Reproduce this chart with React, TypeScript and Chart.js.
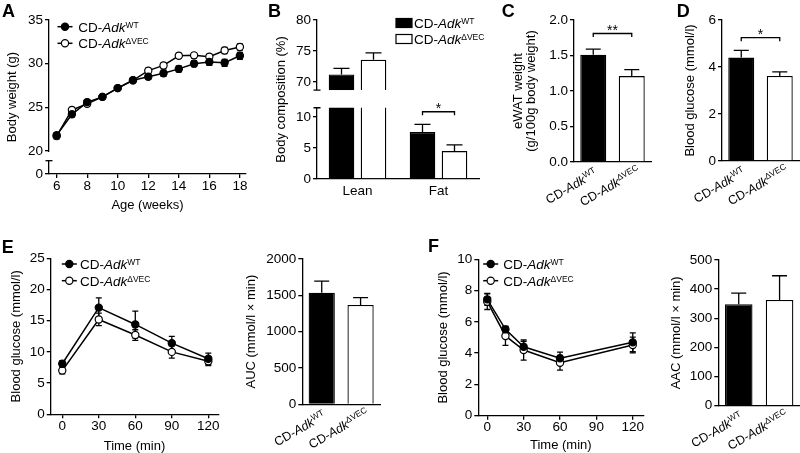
import React, { useEffect, useRef } from 'react';
import { Chart, registerables, LinearScale } from 'chart.js';

// ---------------- data ----------------
const groupKeys = ['WT', 'ΔVEC'];

// A: body weight
const ageWeeks = [6, 7, 8, 9, 10, 11, 12, 13, 14, 15, 16, 17, 18];
const bodyWeightWT = [21.8, 24.2, 25.6, 26.2, 27.2, 28.1, 28.5, 28.9, 29.4, 30.0, 30.2, 30.1, 30.9];
const bodyWeightWTsem = [0.3, 0.3, 0.25, 0.2, 0.2, 0.2, 0.3, 0.35, 0.35, 0.35, 0.4, 0.4, 0.4];
const bodyWeightKO = [21.7, 24.7, 25.4, 26.2, 27.2, 28.1, 29.2, 29.8, 30.9, 30.95, 30.8, 31.5, 31.9];
const bodyWeightKOsem = [0.3, 0.3, 0.25, 0.2, 0.2, 0.2, 0.3, 0.3, 0.3, 0.3, 0.3, 0.35, 0.35];
const bodyWeightTicksY = [0, 20, 25, 30, 35];
const bodyWeightTicksX = [6, 8, 10, 12, 14, 16, 18];

// B: body composition
const compCategories = ['Lean', 'Fat'];
const compWT = [71.2, 7.6];
const compWTsem = [1.0, 1.2];
const compKO = [73.6, 4.5];
const compKOsem = [1.1, 1.0];
const compTicks = [0, 5, 10, 70, 75, 80];
const compSigLevel = 10.85;

// C: eWAT
const ewat = [1.51, 1.21];
const ewatSem = [0.08, 0.09];
const ewatTicks = [0, 0.5, 1.0, 1.5, 2.0];
const ewatSigLevel = 1.81;

// D: fasting glucose
const fastGlucose = [4.4, 3.62];
const fastGlucoseSem = [0.31, 0.17];
const fastGlucoseTicks = [0, 2, 4, 6];
const fastGlucoseSigLevel = 5.25;

// E: GTT
const gttTime = [0, 30, 60, 90, 120];
const gttWT = [8.1, 17.1, 14.4, 11.4, 8.9];
const gttWTsem = [0.5, 1.55, 2.15, 1.1, 0.9];
const gttKO = [7.0, 15.2, 12.7, 10.0, 8.5];
const gttKOsem = [0.5, 1.0, 0.85, 1.0, 0.7];
const gttTicksY = [0, 5, 10, 15, 20, 25];
const timeTicks = [0, 30, 60, 90, 120];
const auc = [1536, 1367];
const aucSem = [160, 100];
const aucTicks = [0, 500, 1000, 1500, 2000];

// F: ITT
const ittTime = [0, 15, 30, 60, 120];
const ittWT = [7.44, 5.52, 4.41, 3.67, 4.69];
const ittWTsem = [0.38, 0.2, 0.35, 0.4, 0.6];
const ittKO = [7.29, 5.1, 4.2, 3.39, 4.52];
const ittKOsem = [0.5, 0.6, 0.65, 0.47, 0.5];
const ittTicksY = [0, 2, 4, 6, 8, 10];
const aac = [348, 363];
const aacSem = [38, 83];
const aacTicks = [0, 100, 200, 300, 400, 500];

// ---------------- styling helpers ----------------
const FONT = '"Liberation Sans", Arial, Helvetica, sans-serif';
const BLACK = '#000000';
const WHITE = '#ffffff';
const LW = 1.3;

type Box = { x: number; y: number; w: number; h: number };
type Plot = { l: number; t: number; r: number; b: number };
type Part = { t: string; it?: boolean; sup?: boolean };

class BrokenScale extends LinearScale {
  static id = 'broken';
  static defaults = LinearScale.defaults;
  getPixelForValue(value: number): number {
    const b = (this.options as any).brk;
    if (!b) return super.getPixelForValue(value);
    const k = (this.bottom - this.top - b.gap) / (b.lo - this.min + (this.max - b.hi));
    const pLo = this.bottom - (b.lo - this.min) * k;
    if (value <= b.lo) return this.bottom - (value - this.min) * k;
    if (value >= b.hi) return pLo - b.gap - (value - b.hi) * k;
    return pLo - ((value - b.lo) / (b.hi - b.lo)) * b.gap;
  }
  getValueForPixel(pixel: number): number {
    const b = (this.options as any).brk;
    if (!b) return super.getValueForPixel(pixel);
    const k = (this.bottom - this.top - b.gap) / (b.lo - this.min + (this.max - b.hi));
    const pLo = this.bottom - (b.lo - this.min) * k;
    if (pixel >= pLo) return this.min + (this.bottom - pixel) / k;
    if (pixel <= pLo - b.gap) return b.hi + (pLo - b.gap - pixel) / k;
    return b.lo + ((pLo - pixel) / b.gap) * (b.hi - b.lo);
  }
}

Chart.register(...registerables, BrokenScale as any);

const partsFor = (k: string): Part[] => [{ t: 'CD-' }, { t: 'Adk', it: true }, { t: k, sup: true }];

function fontOf(p: Part, size: number, sup: number) {
  return `${p.it ? 'italic ' : ''}${p.sup ? sup : size}px ${FONT}`;
}
function measureRich(ctx: CanvasRenderingContext2D, parts: Part[], size: number, sup: number) {
  let w = 0;
  for (const p of parts) {
    ctx.font = fontOf(p, size, sup);
    w += ctx.measureText(p.t).width;
  }
  return w;
}
function drawRich(ctx: CanvasRenderingContext2D, parts: Part[], x: number, y: number, size: number, sup: number, raise: number) {
  let cx = x;
  ctx.textAlign = 'left';
  ctx.textBaseline = 'alphabetic';
  ctx.fillStyle = BLACK;
  for (const p of parts) {
    ctx.font = fontOf(p, size, sup);
    ctx.fillText(p.t, cx, p.sup ? y - raise : y);
    cx += ctx.measureText(p.t).width;
  }
}

type Deco = {
  letter?: { t: string; x: number; y: number };
  lineErr?: boolean;
  barErr?: boolean;
  cap?: number;
  axisBreak?: { hi: number; lo?: number; gapPx?: number; marks: string[]; clearPlot?: boolean };
  brackets?: { a: number[]; b: number[]; v: number; t: string }[];
  legend?: { kind: 'line' | 'box'; mx: number; tx: number; rows: number[] };
  rot?: { dx: number; dy: number; angle: number };
};

function makeDeco(d: Deco) {
  return {
    id: 'deco',
    beforeDatasetsDraw(chart: any) {
      if (!d.lineErr) return;
      const ctx = chart.ctx as CanvasRenderingContext2D;
      const ys = chart.scales.y;
      const c = d.cap ?? 3;
      ctx.save();
      ctx.strokeStyle = BLACK;
      ctx.lineWidth = LW;
      chart.data.datasets.forEach((ds: any, di: number) => {
        const meta = chart.getDatasetMeta(di);
        ds.data.forEach((pt: any, j: number) => {
          const s = ds.sem[j];
          const x = meta.data[j].x;
          const y1 = ys.getPixelForValue(pt.y + s);
          const y2 = ys.getPixelForValue(pt.y - s);
          ctx.beginPath();
          ctx.moveTo(x, y1); ctx.lineTo(x, y2);
          ctx.moveTo(x - c, y1); ctx.lineTo(x + c, y1);
          ctx.moveTo(x - c, y2); ctx.lineTo(x + c, y2);
          ctx.stroke();
        });
      });
      ctx.restore();
    },
    afterDatasetsDraw(chart: any) {
      const ctx = chart.ctx as CanvasRenderingContext2D;
      const ys = chart.scales.y;
      const ca = chart.chartArea;
      ctx.save();
      ctx.strokeStyle = BLACK;
      ctx.lineWidth = LW;
      if (d.axisBreak) {
        const ab = d.axisBreak;
        const yTop = ys.getPixelForValue(ab.hi);
        const yBot = ab.lo !== undefined ? ys.getPixelForValue(ab.lo) : yTop + (ab.gapPx ?? 8);
        const x = ca.left;
        ctx.fillStyle = WHITE;
        if (ab.clearPlot) ctx.fillRect(x - 4, yTop, ca.right - x + 4, yBot - yTop);
        else ctx.fillRect(x - 4, yTop + 1, 8, yBot - yTop - 1);
        ctx.beginPath();
        if (ab.marks.includes('top')) { ctx.moveTo(x - 3.5, yTop); ctx.lineTo(x + 3.5, yTop); }
        if (ab.marks.includes('bottom')) { ctx.moveTo(x - 3.5, yBot); ctx.lineTo(x + 3.5, yBot); }
        ctx.stroke();
      }
      if (d.barErr) {
        const c = d.cap ?? 8;
        chart.data.datasets.forEach((ds: any, di: number) => {
          const meta = chart.getDatasetMeta(di);
          ds.data.forEach((v: number, j: number) => {
            const x = meta.data[j].x;
            const y0 = ys.getPixelForValue(v);
            const y1 = ys.getPixelForValue(v + ds.sem[j]);
            ctx.beginPath();
            ctx.moveTo(x, y0); ctx.lineTo(x, y1);
            ctx.moveTo(x - c, y1); ctx.lineTo(x + c, y1);
            ctx.stroke();
          });
        });
      }
      for (const bk of d.brackets ?? []) {
        const xa = chart.getDatasetMeta(bk.a[0]).data[bk.a[1]].x;
        const xb = chart.getDatasetMeta(bk.b[0]).data[bk.b[1]].x;
        const y = ys.getPixelForValue(bk.v);
        ctx.beginPath();
        ctx.moveTo(xa, y + 3.5); ctx.lineTo(xa, y); ctx.lineTo(xb, y); ctx.lineTo(xb, y + 3.5);
        ctx.stroke();
        ctx.fillStyle = BLACK;
        ctx.font = `14px ${FONT}`;
        ctx.textAlign = 'center';
        ctx.textBaseline = 'alphabetic';
        ctx.fillText(bk.t, (xa + xb) / 2, y + 1.5);
      }
      ctx.restore();
    },
    afterDraw(chart: any) {
      const ctx = chart.ctx as CanvasRenderingContext2D;
      ctx.save();
      if (d.letter) {
        ctx.fillStyle = BLACK;
        ctx.font = `bold 18px ${FONT}`;
        ctx.textAlign = 'left';
        ctx.textBaseline = 'alphabetic';
        ctx.fillText(d.letter.t, d.letter.x, d.letter.y);
      }
      if (d.legend) {
        const lg = d.legend;
        lg.rows.forEach((ry, i) => {
          const ds = chart.data.datasets[i];
          ctx.strokeStyle = BLACK;
          if (lg.kind === 'line') {
            ctx.lineWidth = 1.5;
            ctx.beginPath();
            ctx.moveTo(lg.mx - 7.5, ry); ctx.lineTo(lg.mx + 7.5, ry);
            ctx.stroke();
            ctx.lineWidth = 1.2;
            ctx.beginPath();
            ctx.arc(lg.mx, ry, 3.6, 0, Math.PI * 2);
            ctx.fillStyle = ds.pointBackgroundColor;
            ctx.fill();
            ctx.stroke();
          } else {
            ctx.lineWidth = 1.2;
            ctx.fillStyle = ds.backgroundColor;
            ctx.fillRect(lg.mx, ry - 4.5, 16, 9);
            ctx.strokeRect(lg.mx, ry - 4.5, 16, 9);
          }
          drawRich(ctx, partsFor(groupKeys[i]), lg.tx, ry + 4.8, 13.5, 8.5, 4);
        });
      }
      if (d.rot) {
        const xs = chart.scales.x;
        const base = chart.chartArea.bottom;
        (chart.data.labels as string[]).forEach((lab, i) => {
          const parts = partsFor(lab);
          const cx = xs.getPixelForValue(i);
          ctx.save();
          ctx.translate(cx + d.rot!.dx, base + d.rot!.dy);
          ctx.rotate((-d.rot!.angle * Math.PI) / 180);
          const w = measureRich(ctx, parts, 12.5, 8.5);
          drawRich(ctx, parts, -w / 2, 4.5, 12.5, 8.5, 4.5);
          ctx.restore();
        });
      }
      ctx.restore();
    },
  };
}

const tickFont = { family: FONT, size: 13.5, lineHeight: 1 };
const titleFont = { family: FONT, size: 13, lineHeight: 1 };
const axisGrid = { display: true, drawOnChartArea: false, drawTicks: true, tickLength: 4, color: BLACK, lineWidth: LW };
const axisBorder = { display: true, color: BLACK, width: LW };

function yAxis(box: Box, plot: Plot, p: { min: number; max: number; ticks: number[]; title: string | string[]; tpad: number; dec?: number; brk?: any }) {
  const w = plot.l - box.x;
  return {
    type: p.brk ? 'broken' : 'linear',
    position: 'left',
    min: p.min,
    max: p.max,
    brk: p.brk,
    afterBuildTicks: (s: any) => { s.ticks = p.ticks.map((v) => ({ value: v })); },
    afterFit: (s: any) => { s.width = w; s.paddingTop = 0; s.paddingBottom = 0; },
    grid: axisGrid,
    border: axisBorder,
    ticks: { color: BLACK, font: tickFont, padding: 2, autoSkip: false, callback: (v: any) => (p.dec !== undefined ? Number(v).toFixed(p.dec) : String(v)) },
    title: { display: true, text: p.title, color: BLACK, font: titleFont, padding: { top: p.tpad, bottom: 0 } },
  };
}

function xLinear(box: Box, plot: Plot, p: { min: number; max: number; ticks: number[]; title: string; tpad: number; tickPad: number }) {
  const h = box.y + box.h - plot.b;
  return {
    type: 'linear',
    position: 'bottom',
    min: p.min,
    max: p.max,
    afterBuildTicks: (s: any) => { s.ticks = p.ticks.map((v) => ({ value: v })); },
    afterFit: (s: any) => { s.height = h; s.paddingLeft = 0; s.paddingRight = 0; },
    grid: axisGrid,
    border: axisBorder,
    ticks: { color: BLACK, font: tickFont, padding: p.tickPad, autoSkip: false, maxRotation: 0, minRotation: 0, callback: (v: any) => String(v) },
    title: { display: true, text: p.title, color: BLACK, font: titleFont, padding: { top: 0, bottom: p.tpad } },
  };
}

function xCat(box: Box, plot: Plot, p: { show: boolean; tickPad: number }) {
  const h = box.y + box.h - plot.b;
  return {
    type: 'category',
    position: 'bottom',
    offset: true,
    afterFit: (s: any) => { s.height = h; s.paddingLeft = 0; s.paddingRight = 0; },
    grid: { display: false, drawTicks: false },
    border: axisBorder,
    ticks: { display: p.show, color: BLACK, font: tickFont, padding: p.tickPad, autoSkip: false, maxRotation: 0, minRotation: 0 },
  };
}

function baseOptions(box: Box, plot: Plot, scales: any) {
  return {
    animation: false,
    responsive: false,
    maintainAspectRatio: false,
    devicePixelRatio: 1,
    events: [],
    layout: { padding: { left: 0, top: plot.t - box.y, right: box.x + box.w - plot.r, bottom: 0 } },
    plugins: { legend: { display: false }, tooltip: { enabled: false }, title: { display: false } },
    scales,
  };
}

function lineDs(label: string, xs: number[], ys: number[], sem: number[], fill: string) {
  return {
    label,
    data: xs.map((x, i) => ({ x, y: ys[i] })),
    sem,
    borderColor: BLACK,
    borderWidth: 1.5,
    pointRadius: 3.6,
    pointBackgroundColor: fill,
    pointBorderColor: BLACK,
    pointBorderWidth: 1.2,
    tension: 0,
    fill: false,
  };
}

function pairBarDs(values: number[], sem: number[]) {
  return {
    label: 'value',
    data: values,
    sem,
    backgroundColor: [BLACK, WHITE],
    borderColor: BLACK,
    borderWidth: LW,
    categoryPercentage: 1,
    barPercentage: 0.675,
  };
}

const ROT = { dx: -22, dy: 24, angle: 30 };

// ---------------- panels ----------------
const boxA: Box = { x: 0, y: 0, w: 262, h: 222 };
const plotA: Plot = { l: 49, t: 20, r: 246, b: 174 };
const boxB: Box = { x: 262, y: 0, w: 250, h: 222 };
const plotB: Plot = { l: 317, t: 20, r: 479, b: 179 };
const boxC: Box = { x: 480, y: 0, w: 175, h: 222 };
const plotC: Plot = { l: 574, t: 20, r: 651, b: 162 };
const boxD: Box = { x: 655, y: 0, w: 145, h: 222 };
const plotD: Plot = { l: 722, t: 20, r: 799, b: 161 };
const boxE: Box = { x: 0, y: 225, w: 235, h: 228 };
const plotE: Plot = { l: 50.7, t: 258.3, r: 218.3, b: 414.3 };
const boxE2: Box = { x: 235, y: 225, w: 185, h: 228 };
const plotE2: Plot = { l: 302.3, t: 259, r: 380, b: 404.3 };
const boxF: Box = { x: 420, y: 225, w: 235, h: 228 };
const plotF: Plot = { l: 478.3, t: 259.3, r: 643.3, b: 415.7 };
const boxF2: Box = { x: 655, y: 225, w: 145, h: 228 };
const plotF2: Plot = { l: 718.3, t: 260, r: 800, b: 405.7 };

const PANELS: { box: Box; build: () => any }[] = [
  {
    box: boxA,
    build: () => ({
      type: 'line',
      data: {
        datasets: [
          lineDs(groupKeys[0], ageWeeks, bodyWeightWT, bodyWeightWTsem, BLACK),
          lineDs(groupKeys[1], ageWeeks, bodyWeightKO, bodyWeightKOsem, WHITE),
        ],
      },
      options: baseOptions(boxA, plotA, {
        x: xLinear(boxA, plotA, { min: 5.5, max: 18.4, ticks: bodyWeightTicksX, title: 'Age (weeks)', tpad: 10.5, tickPad: 2 }),
        y: yAxis(boxA, plotA, { min: 0, max: 35, ticks: bodyWeightTicksY, title: 'Body weight (g)', tpad: 6, brk: { lo: 0, hi: 20, gap: 23 } }),
      }),
      plugins: [makeDeco({
        letter: { t: 'A', x: 2, y: 17 },
        lineErr: true,
        cap: 3,
        axisBreak: { hi: 20, gapPx: 9.7, marks: ['bottom'] },
        legend: { kind: 'line', mx: 65, tx: 78.3, rows: [26.7, 43.3] },
      })],
    }),
  },
  {
    box: boxB,
    build: () => ({
      type: 'bar',
      data: {
        labels: compCategories,
        datasets: [
          { label: groupKeys[0], data: compWT, sem: compWTsem, backgroundColor: BLACK, borderColor: BLACK, borderWidth: LW, categoryPercentage: 0.79, barPercentage: 0.8 },
          { label: groupKeys[1], data: compKO, sem: compKOsem, backgroundColor: WHITE, borderColor: BLACK, borderWidth: LW, categoryPercentage: 0.79, barPercentage: 0.8 },
        ],
      },
      options: baseOptions(boxB, plotB, {
        x: xCat(boxB, plotB, { show: true, tickPad: 6 }),
        y: yAxis(boxB, plotB, { min: 0, max: 80, ticks: compTicks, title: 'Body composition (%)', tpad: 13.2, brk: { lo: 11.5, hi: 68.7, gap: 17.7 } }),
      }),
      plugins: [makeDeco({
        letter: { t: 'B', x: 6, y: 17 },
        barErr: true,
        cap: 8,
        axisBreak: { hi: 68.7, lo: 11.5, marks: ['top', 'bottom'], clearPlot: true },
        brackets: [{ a: [0, 1], b: [1, 1], v: compSigLevel, t: '*' }],
        legend: { kind: 'box', mx: 134, tx: 152, rows: [23, 39] },
      })],
    }),
  },
  {
    box: boxC,
    build: () => ({
      type: 'bar',
      data: { labels: groupKeys, datasets: [pairBarDs(ewat, ewatSem)] },
      options: baseOptions(boxC, plotC, {
        x: xCat(boxC, plotC, { show: false, tickPad: 0 }),
        y: yAxis(boxC, plotC, { min: 0, max: 2, ticks: ewatTicks, title: ['eWAT weight', '(g/100g body weight)'], tpad: 31.8, dec: 1 }),
      }),
      plugins: [makeDeco({
        letter: { t: 'C', x: 21.7, y: 17 },
        barErr: true,
        cap: 7.5,
        brackets: [{ a: [0, 0], b: [0, 1], v: ewatSigLevel, t: '**' }],
        rot: ROT,
      })],
    }),
  },
  {
    box: boxD,
    build: () => ({
      type: 'bar',
      data: { labels: groupKeys, datasets: [pairBarDs(fastGlucose, fastGlucoseSem)] },
      options: baseOptions(boxD, plotD, {
        x: xCat(boxD, plotD, { show: false, tickPad: 0 }),
        y: yAxis(boxD, plotD, { min: 0, max: 6, ticks: fastGlucoseTicks, title: 'Blood glucose (mmol/l)', tpad: 28.5 }),
      }),
      plugins: [makeDeco({
        letter: { t: 'D', x: 21.7, y: 17 },
        barErr: true,
        cap: 7.5,
        brackets: [{ a: [0, 0], b: [0, 1], v: fastGlucoseSigLevel, t: '*' }],
        rot: ROT,
      })],
    }),
  },
  {
    box: boxE,
    build: () => ({
      type: 'line',
      data: {
        datasets: [
          lineDs(groupKeys[0], gttTime, gttWT, gttWTsem, BLACK),
          lineDs(groupKeys[1], gttTime, gttKO, gttKOsem, WHITE),
        ],
      },
      options: baseOptions(boxE, plotE, {
        x: xLinear(boxE, plotE, { min: -9.5, max: 128.2, ticks: timeTicks, title: 'Time (min)', tpad: 0.5, tickPad: 1 }),
        y: yAxis(boxE, plotE, { min: 0, max: 25, ticks: gttTicksY, title: 'Blood glucose (mmol/l)', tpad: 10.2 }),
      }),
      plugins: [makeDeco({
        letter: { t: 'E', x: 1.7, y: 28.3 },
        lineErr: true,
        cap: 3,
        legend: { kind: 'line', mx: 69.3, tx: 80, rows: [39, 55.7] },
      })],
    }),
  },
  {
    box: boxE2,
    build: () => ({
      type: 'bar',
      data: { labels: groupKeys, datasets: [pairBarDs(auc, aucSem)] },
      options: baseOptions(boxE2, plotE2, {
        x: xCat(boxE2, plotE2, { show: false, tickPad: 0 }),
        y: yAxis(boxE2, plotE2, { min: 0, max: 2000, ticks: aucTicks, title: 'AUC (mmol/l × min)', tpad: 10 }),
      }),
      plugins: [makeDeco({ barErr: true, cap: 7.5, rot: ROT })],
    }),
  },
  {
    box: boxF,
    build: () => ({
      type: 'line',
      data: {
        datasets: [
          lineDs(groupKeys[0], ittTime, ittWT, ittWTsem, BLACK),
          lineDs(groupKeys[1], ittTime, ittKO, ittKOsem, WHITE),
        ],
      },
      options: baseOptions(boxF, plotF, {
        x: xLinear(boxF, plotF, { min: -7.4, max: 128.7, ticks: timeTicks, title: 'Time (min)', tpad: 1.5, tickPad: 1 }),
        y: yAxis(boxF, plotF, { min: 0, max: 10, ticks: ittTicksY, title: 'Blood glucose (mmol/l)', tpad: 16.8 }),
      }),
      plugins: [makeDeco({
        letter: { t: 'F', x: 8, y: 26.7 },
        lineErr: true,
        cap: 3,
        legend: { kind: 'line', mx: 70.7, tx: 83.3, rows: [39, 55.7] },
      })],
    }),
  },
  {
    box: boxF2,
    build: () => ({
      type: 'bar',
      data: { labels: groupKeys, datasets: [pairBarDs(aac, aacSem)] },
      options: baseOptions(boxF2, plotF2, {
        x: xCat(boxF2, plotF2, { show: false, tickPad: 0 }),
        y: yAxis(boxF2, plotF2, { min: 0, max: 500, ticks: aacTicks, title: 'AAC (mmol/l × min)', tpad: 15.2 }),
      }),
      plugins: [makeDeco({ barErr: true, cap: 7.5, rot: ROT })],
    }),
  },
];

function ChartCanvas({ box, build }: { box: Box; build: () => any }) {
  const ref = useRef<HTMLCanvasElement | null>(null);
  useEffect(() => {
    if (!ref.current) return;
    const chart = new Chart(ref.current, build());
    return () => chart.destroy();
  }, []);
  return (
    <canvas
      ref={ref}
      width={box.w}
      height={box.h}
      style={{ position: 'absolute', left: box.x, top: box.y, width: box.w, height: box.h }}
    />
  );
}

export default function App() {
  return (
    <div style={{ position: 'fixed', left: 0, top: 0, width: 800, height: 453, background: '#fff', overflow: 'hidden' }}>
      {PANELS.map((p, i) => (
        <ChartCanvas key={i} box={p.box} build={p.build} />
      ))}
    </div>
  );
}
